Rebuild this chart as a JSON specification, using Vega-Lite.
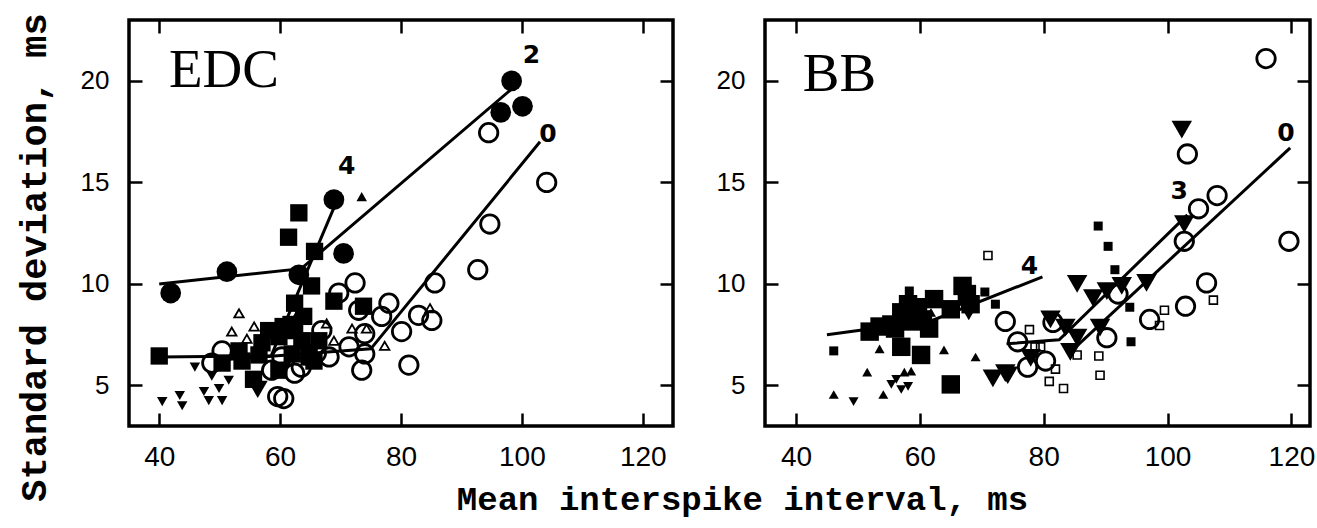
{
  "$schema": "https://vega.github.io/schema/vega-lite/v6.json",
  "background": "white",
  "padding": {"left": 13, "top": 11, "right": 0, "bottom": 0},
  "config": {
    "view": {"stroke": "black", "strokeWidth": 3.5},
    "axis": {"grid": false, "domain": false, "ticks": true, "tickColor": "black", "tickWidth": 2.5, "tickSize": 13, "offset": -13, "labelColor": "black", "labelFont": "Liberation Sans", "labelOverlap": false, "titleColor": "black"}
  },
  "datasets": {
    "pts": [
      {"p":"EDC","k":"fc","x":41.9,"y":9.55},{"p":"EDC","k":"fc","x":51.2,"y":10.6},{"p":"EDC","k":"fc","x":63.1,"y":10.45},{"p":"EDC","k":"fc","x":70.5,"y":11.5},{"p":"EDC","k":"fc","x":68.9,"y":14.15},{"p":"EDC","k":"fc","x":98.3,"y":20.0},{"p":"EDC","k":"fc","x":96.5,"y":18.45},{"p":"EDC","k":"fc","x":100.1,"y":18.75},
      {"p":"EDC","k":"fs","x":40.0,"y":6.45},{"p":"EDC","k":"fs","x":63.1,"y":13.5},{"p":"EDC","k":"fs","x":61.4,"y":12.3},{"p":"EDC","k":"fs","x":65.7,"y":11.6},{"p":"EDC","k":"fs","x":65.2,"y":9.9},{"p":"EDC","k":"fs","x":68.9,"y":9.15},{"p":"EDC","k":"fs","x":73.8,"y":8.9},{"p":"EDC","k":"fs","x":62.4,"y":9.05},{"p":"EDC","k":"fs","x":63.9,"y":8.4},{"p":"EDC","k":"fs","x":58.1,"y":7.7},{"p":"EDC","k":"fs","x":59.8,"y":7.4},{"p":"EDC","k":"fs","x":57.0,"y":7.1},{"p":"EDC","k":"fs","x":53.7,"y":6.2},{"p":"EDC","k":"fs","x":62.4,"y":7.7},{"p":"EDC","k":"fs","x":66.4,"y":7.2},{"p":"EDC","k":"fs","x":64.8,"y":6.4},{"p":"EDC","k":"fs","x":59.8,"y":5.75},{"p":"EDC","k":"fs","x":55.6,"y":5.3},{"p":"EDC","k":"fs","x":50.4,"y":6.1},{"p":"EDC","k":"fs","x":53.2,"y":6.7},{"p":"EDC","k":"fs","x":62.0,"y":6.55},{"p":"EDC","k":"fs","x":63.6,"y":7.2},{"p":"EDC","k":"fs","x":60.5,"y":7.9},{"p":"EDC","k":"fs","x":61.8,"y":8.0},{"p":"EDC","k":"fs","x":56.5,"y":6.5},{"p":"EDC","k":"fs","x":65.6,"y":6.2},
      {"p":"EDC","k":"oc","x":94.5,"y":17.45},{"p":"EDC","k":"oc","x":104.1,"y":15.0},{"p":"EDC","k":"oc","x":94.7,"y":12.95},{"p":"EDC","k":"oc","x":92.7,"y":10.7},{"p":"EDC","k":"oc","x":85.6,"y":10.05},{"p":"EDC","k":"oc","x":82.9,"y":8.45},{"p":"EDC","k":"oc","x":85.1,"y":8.2},{"p":"EDC","k":"oc","x":80.1,"y":7.65},{"p":"EDC","k":"oc","x":81.3,"y":6.0},{"p":"EDC","k":"oc","x":72.4,"y":10.05},{"p":"EDC","k":"oc","x":69.7,"y":9.55},{"p":"EDC","k":"oc","x":73.0,"y":8.7},{"p":"EDC","k":"oc","x":78.0,"y":9.05},{"p":"EDC","k":"oc","x":76.8,"y":8.4},{"p":"EDC","k":"oc","x":73.5,"y":5.75},{"p":"EDC","k":"oc","x":74.0,"y":6.55},{"p":"EDC","k":"oc","x":71.4,"y":6.9},{"p":"EDC","k":"oc","x":74.0,"y":7.55},{"p":"EDC","k":"oc","x":68.1,"y":6.4},{"p":"EDC","k":"oc","x":66.9,"y":7.7},{"p":"EDC","k":"oc","x":50.4,"y":6.7},{"p":"EDC","k":"oc","x":48.7,"y":6.1},{"p":"EDC","k":"oc","x":58.6,"y":5.75},{"p":"EDC","k":"oc","x":62.4,"y":5.6},{"p":"EDC","k":"oc","x":60.3,"y":6.4},{"p":"EDC","k":"oc","x":59.6,"y":4.45},{"p":"EDC","k":"oc","x":60.6,"y":4.35},{"p":"EDC","k":"oc","x":63.5,"y":5.9},{"p":"EDC","k":"oc","x":66.0,"y":6.6},
      {"p":"EDC","k":"ot","x":53.2,"y":8.55},{"p":"EDC","k":"ot","x":52.0,"y":7.65},{"p":"EDC","k":"ot","x":55.7,"y":7.9},{"p":"EDC","k":"ot","x":54.5,"y":7.3},{"p":"EDC","k":"ot","x":67.7,"y":8.05},{"p":"EDC","k":"ot","x":71.9,"y":7.8},{"p":"EDC","k":"ot","x":74.3,"y":7.8},{"p":"EDC","k":"ot","x":77.3,"y":6.95},{"p":"EDC","k":"ot","x":68.9,"y":7.2},{"p":"EDC","k":"ot","x":84.8,"y":8.8},{"p":"EDC","k":"ot","x":62.5,"y":8.3},
      {"p":"EDC","k":"ft","x":73.5,"y":14.3},
      {"p":"EDC","k":"fd","x":40.5,"y":4.2},{"p":"EDC","k":"fd","x":43.4,"y":4.5},{"p":"EDC","k":"fd","x":43.8,"y":4.0},{"p":"EDC","k":"fd","x":45.9,"y":5.9},{"p":"EDC","k":"fd","x":47.4,"y":4.7},{"p":"EDC","k":"fd","x":48.2,"y":4.25},{"p":"EDC","k":"fd","x":49.9,"y":4.85},{"p":"EDC","k":"fd","x":50.4,"y":4.25},{"p":"EDC","k":"fd","x":48.7,"y":5.45},{"p":"EDC","k":"fd","x":51.5,"y":5.25},
      {"p":"EDC","k":"FD","x":56.3,"y":4.8},
      {"p":"BB","k":"fs","x":51.9,"y":7.65},{"p":"BB","k":"fs","x":55.4,"y":8.0},{"p":"BB","k":"fs","x":57.0,"y":8.6},{"p":"BB","k":"fs","x":59.7,"y":8.85},{"p":"BB","k":"fs","x":62.3,"y":9.25},{"p":"BB","k":"fs","x":65.0,"y":8.75},{"p":"BB","k":"fs","x":66.9,"y":9.9},{"p":"BB","k":"fs","x":58.6,"y":8.15},{"p":"BB","k":"fs","x":60.5,"y":8.25},{"p":"BB","k":"fs","x":57.0,"y":6.9},{"p":"BB","k":"fs","x":60.2,"y":6.5},{"p":"BB","k":"fs","x":65.0,"y":5.05},{"p":"BB","k":"fs","x":58.1,"y":9.0},{"p":"BB","k":"fs","x":68.2,"y":9.0},{"p":"BB","k":"fs","x":53.5,"y":7.9},{"p":"BB","k":"fs","x":56.0,"y":7.8},{"p":"BB","k":"fs","x":61.5,"y":7.8},{"p":"BB","k":"fs","x":67.6,"y":9.5},
      {"p":"BB","k":"ss","x":46.1,"y":6.7},{"p":"BB","k":"ss","x":58.3,"y":9.65},{"p":"BB","k":"ss","x":70.5,"y":9.6},{"p":"BB","k":"ss","x":72.2,"y":9.0},{"p":"BB","k":"ss","x":88.8,"y":12.85},{"p":"BB","k":"ss","x":90.4,"y":11.85},{"p":"BB","k":"ss","x":91.5,"y":10.7},{"p":"BB","k":"ss","x":93.9,"y":8.85},{"p":"BB","k":"ss","x":94.1,"y":7.15},
      {"p":"BB","k":"os","x":71.0,"y":11.4},{"p":"BB","k":"os","x":77.7,"y":7.75},{"p":"BB","k":"os","x":79.5,"y":6.9},{"p":"BB","k":"os","x":81.9,"y":5.8},{"p":"BB","k":"os","x":80.9,"y":5.2},{"p":"BB","k":"os","x":83.2,"y":4.85},{"p":"BB","k":"os","x":85.4,"y":6.5},{"p":"BB","k":"os","x":88.9,"y":6.45},{"p":"BB","k":"os","x":89.1,"y":5.5},{"p":"BB","k":"os","x":99.5,"y":8.7},{"p":"BB","k":"os","x":98.7,"y":7.95},{"p":"BB","k":"os","x":107.4,"y":9.2},{"p":"BB","k":"os","x":78.6,"y":6.9},
      {"p":"BB","k":"oc","x":115.9,"y":21.1},{"p":"BB","k":"oc","x":103.2,"y":16.4},{"p":"BB","k":"oc","x":108.0,"y":14.35},{"p":"BB","k":"oc","x":105.0,"y":13.7},{"p":"BB","k":"oc","x":102.7,"y":12.1},{"p":"BB","k":"oc","x":119.6,"y":12.1},{"p":"BB","k":"oc","x":106.3,"y":10.05},{"p":"BB","k":"oc","x":102.9,"y":8.9},{"p":"BB","k":"oc","x":97.1,"y":8.25},{"p":"BB","k":"oc","x":92.0,"y":9.5},{"p":"BB","k":"oc","x":90.2,"y":7.35},{"p":"BB","k":"oc","x":81.5,"y":8.1},{"p":"BB","k":"oc","x":75.8,"y":7.15},{"p":"BB","k":"oc","x":80.3,"y":6.2},{"p":"BB","k":"oc","x":77.4,"y":5.9},{"p":"BB","k":"oc","x":73.8,"y":8.15},
      {"p":"BB","k":"FD","x":102.3,"y":17.6},{"p":"BB","k":"FD","x":102.7,"y":12.95},{"p":"BB","k":"FD","x":85.4,"y":10.0},{"p":"BB","k":"FD","x":88.0,"y":9.3},{"p":"BB","k":"FD","x":90.2,"y":9.65},{"p":"BB","k":"FD","x":92.6,"y":9.9},{"p":"BB","k":"FD","x":96.6,"y":10.05},{"p":"BB","k":"FD","x":89.1,"y":7.85},{"p":"BB","k":"FD","x":81.1,"y":8.25},{"p":"BB","k":"FD","x":83.5,"y":7.85},{"p":"BB","k":"FD","x":85.4,"y":7.35},{"p":"BB","k":"FD","x":84.3,"y":6.65},{"p":"BB","k":"FD","x":77.9,"y":6.35},{"p":"BB","k":"FD","x":73.8,"y":5.6},{"p":"BB","k":"FD","x":71.8,"y":5.35},{"p":"BB","k":"FD","x":74.2,"y":5.5},{"p":"BB","k":"FD","x":67.9,"y":8.65},
      {"p":"BB","k":"fd","x":49.3,"y":4.2},{"p":"BB","k":"fd","x":55.4,"y":5.05},{"p":"BB","k":"fd","x":57.0,"y":4.8},{"p":"BB","k":"fd","x":58.1,"y":4.95},{"p":"BB","k":"fd","x":56.2,"y":5.3},
      {"p":"BB","k":"ft","x":46.1,"y":4.55},{"p":"BB","k":"ft","x":51.5,"y":5.65},{"p":"BB","k":"ft","x":53.5,"y":6.8},{"p":"BB","k":"ft","x":54.1,"y":4.55},{"p":"BB","k":"ft","x":63.9,"y":6.75},{"p":"BB","k":"ft","x":69.0,"y":6.4},{"p":"BB","k":"ft","x":61.8,"y":8.6},{"p":"BB","k":"ft","x":57.5,"y":5.65},{"p":"BB","k":"ft","x":58.6,"y":5.7}
    ],
    "lines": [
      {"p":"EDC","id":"2","x":40,"y":10.0},{"p":"EDC","id":"2","x":63.5,"y":10.75},{"p":"EDC","id":"2","x":98.3,"y":19.6},
      {"p":"EDC","id":"4","x":40,"y":6.4},{"p":"EDC","id":"4","x":58.5,"y":6.45},{"p":"EDC","id":"4","x":69.4,"y":14.1},
      {"p":"EDC","id":"0","x":50,"y":6.25},{"p":"EDC","id":"0","x":75,"y":6.8},{"p":"EDC","id":"0","x":103,"y":17.0},
      {"p":"BB","id":"4","x":45,"y":7.5},{"p":"BB","id":"4","x":62,"y":8.2},{"p":"BB","id":"4","x":79.8,"y":10.35},
      {"p":"BB","id":"3","x":74,"y":7.05},{"p":"BB","id":"3","x":82.5,"y":7.25},{"p":"BB","id":"3","x":103.2,"y":13.4},
      {"p":"BB","id":"0","x":84.5,"y":6.7},{"p":"BB","id":"0","x":119.8,"y":16.7}
    ],
    "nums": [
      {"p":"EDC","t":"2","x":101.6,"y":21.3},{"p":"EDC","t":"4","x":71.0,"y":15.8},{"p":"EDC","t":"0","x":104.3,"y":17.4},
      {"p":"BB","t":"0","x":119.1,"y":17.45},{"p":"BB","t":"3","x":101.9,"y":14.6},{"p":"BB","t":"4","x":77.7,"y":10.9}
    ],
    "names": [
      {"p":"EDC","t":"EDC","x":41.6,"y":19.7},{"p":"BB","t":"BB","x":41.1,"y":19.5}
    ]
  },
  "hconcat": [
    {
      "width": 544, "height": 406,
      "data": {"name": "pts"},
      "encoding": {
        "x": {"field":"x","type":"quantitative","scale":{"domain":[35,125],"nice":false,"zero":false},"axis":null},
        "y": {"field":"y","type":"quantitative","scale":{"domain":[3,23],"nice":false,"zero":false},"axis":null}
      },
      "layer": [
        {
          "data": {"name": "lines"},
          "transform": [{"filter": "datum.p === 'EDC'"}],
          "mark": {"type": "line", "color": "black", "strokeWidth": 3},
          "encoding": {
            "x": {"field":"x","type":"quantitative","scale":{"domain":[35,125],"nice":false,"zero":false},
              "axis":{"orient":"bottom","values":[40,60,80,100,120],"labelFontSize":28,"labelPadding":17,
                "title":"Mean interspike interval, ms","titleFont":"Liberation Mono","titleFontSize":34,"titleFontWeight":"bold",
                "titleX":613,"titleY":96,"titleBaseline":"alphabetic","titleAlign":"center"}},
            "y": {"field":"y","type":"quantitative","scale":{"domain":[3,23],"nice":false,"zero":false},
              "axis":{"orient":"left","values":[5,10,15,20],"labelFontSize":26,"labelPadding":20,
                "title":"Standard deviation, ms","titleFont":"Liberation Mono","titleFontSize":37,"titleFontWeight":"bold",
                "titleX":-97,"titleY":237,"titleBaseline":"alphabetic","titleAlign":"center","titleAngle":-90}},
            "detail": {"field":"id"}
          }
        },
        {
          "data": {"name": "nums"},
          "transform": [{"filter": "datum.p === 'EDC'"}],
          "mark": {"type": "text", "font": "DejaVu Sans", "fontWeight": "bold", "fontSize": 25, "color": "black", "align": "center", "baseline": "middle"},
          "encoding": {
            "x": {"field":"x","type":"quantitative","scale":{"domain":[35,125],"nice":false,"zero":false},
              "axis":{"orient":"top","values":[40,60,80,100,120],"labels":false,"title":null}},
            "y": {"field":"y","type":"quantitative","scale":{"domain":[3,23],"nice":false,"zero":false},
              "axis":{"orient":"right","values":[5,10,15,20],"labels":false,"title":null}},
            "text": {"field":"t"}
          }
        },
        {
          "data": {"name": "names"},
          "transform": [{"filter": "datum.p === 'EDC'"}],
          "mark": {"type": "text", "font": "Liberation Serif", "fontSize": 55, "color": "black", "align": "left", "baseline": "alphabetic"},
          "encoding": {"text": {"field":"t"}}
        },
        {"transform":[{"filter":"datum.p==='EDC'&&datum.k==='fd'"}],"mark":{"type":"point","shape":"triangle-down","filled":true,"color":"black","size":110,"opacity":1,"strokeWidth":0}},
        {"transform":[{"filter":"datum.p==='EDC'&&datum.k==='FD'"}],"mark":{"type":"point","shape":"triangle-down","filled":true,"color":"black","size":400,"opacity":1,"strokeWidth":0}},
        {"transform":[{"filter":"datum.p==='EDC'&&datum.k==='ot'"}],"mark":{"type":"point","shape":"triangle-up","filled":false,"color":"black","size":90,"opacity":1,"strokeWidth":1.8}},
        {"transform":[{"filter":"datum.p==='EDC'&&datum.k==='ft'"}],"mark":{"type":"point","shape":"triangle-up","filled":true,"color":"black","size":110,"opacity":1,"strokeWidth":0}},
        {"transform":[{"filter":"datum.p==='EDC'&&datum.k==='oc'"}],"mark":{"type":"point","shape":"circle","filled":false,"color":"black","size":340,"opacity":1,"strokeWidth":2.8}},
        {"transform":[{"filter":"datum.p==='EDC'&&datum.k==='fs'"}],"mark":{"type":"point","shape":"square","filled":true,"color":"black","size":300,"opacity":1,"strokeWidth":0}},
        {"transform":[{"filter":"datum.p==='EDC'&&datum.k==='fc'"}],"mark":{"type":"point","shape":"circle","filled":true,"color":"black","size":430,"opacity":1,"strokeWidth":0}}
      ],
      "resolve": {"axis": {"x": "independent", "y": "independent"}}
    },
    {
      "width": 545, "height": 406,
      "data": {"name": "pts"},
      "encoding": {
        "x": {"field":"x","type":"quantitative","scale":{"domain":[35,123],"nice":false,"zero":false},"axis":null},
        "y": {"field":"y","type":"quantitative","scale":{"domain":[3,23],"nice":false,"zero":false},"axis":null}
      },
      "layer": [
        {
          "data": {"name": "lines"},
          "transform": [{"filter": "datum.p === 'BB'"}],
          "mark": {"type": "line", "color": "black", "strokeWidth": 3},
          "encoding": {
            "x": {"field":"x","type":"quantitative","scale":{"domain":[35,123],"nice":false,"zero":false},
              "axis":{"orient":"bottom","values":[40,60,80,100,120],"labelFontSize":28,"labelPadding":17,"title":null}},
            "y": {"field":"y","type":"quantitative","scale":{"domain":[3,23],"nice":false,"zero":false},
              "axis":{"orient":"left","values":[5,10,15,20],"labelFontSize":26,"labelPadding":20,"title":null}},
            "detail": {"field":"id"}
          }
        },
        {
          "data": {"name": "nums"},
          "transform": [{"filter": "datum.p === 'BB'"}],
          "mark": {"type": "text", "font": "DejaVu Sans", "fontWeight": "bold", "fontSize": 25, "color": "black", "align": "center", "baseline": "middle"},
          "encoding": {
            "x": {"field":"x","type":"quantitative","scale":{"domain":[35,123],"nice":false,"zero":false},
              "axis":{"orient":"top","values":[40,60,80,100,120],"labels":false,"title":null}},
            "y": {"field":"y","type":"quantitative","scale":{"domain":[3,23],"nice":false,"zero":false},
              "axis":{"orient":"right","values":[5,10,15,20],"labels":false,"title":null}},
            "text": {"field":"t"}
          }
        },
        {
          "data": {"name": "names"},
          "transform": [{"filter": "datum.p === 'BB'"}],
          "mark": {"type": "text", "font": "Liberation Serif", "fontSize": 55, "color": "black", "align": "left", "baseline": "alphabetic"},
          "encoding": {"text": {"field":"t"}}
        },
        {"transform":[{"filter":"datum.p==='BB'&&datum.k==='fd'"}],"mark":{"type":"point","shape":"triangle-down","filled":true,"color":"black","size":100,"opacity":1,"strokeWidth":0}},
        {"transform":[{"filter":"datum.p==='BB'&&datum.k==='ft'"}],"mark":{"type":"point","shape":"triangle-up","filled":true,"color":"black","size":100,"opacity":1,"strokeWidth":0}},
        {"transform":[{"filter":"datum.p==='BB'&&datum.k==='os'"}],"mark":{"type":"point","shape":"square","filled":false,"color":"black","size":64,"opacity":1,"strokeWidth":1.6}},
        {"transform":[{"filter":"datum.p==='BB'&&datum.k==='ss'"}],"mark":{"type":"point","shape":"square","filled":true,"color":"black","size":81,"opacity":1,"strokeWidth":0}},
        {"transform":[{"filter":"datum.p==='BB'&&datum.k==='fs'"}],"mark":{"type":"point","shape":"square","filled":true,"color":"black","size":340,"opacity":1,"strokeWidth":0}},
        {"transform":[{"filter":"datum.p==='BB'&&datum.k==='oc'"}],"mark":{"type":"point","shape":"circle","filled":false,"color":"black","size":340,"opacity":1,"strokeWidth":2.8}},
        {"transform":[{"filter":"datum.p==='BB'&&datum.k==='FD'"}],"mark":{"type":"point","shape":"triangle-down","filled":true,"color":"black","size":420,"opacity":1,"strokeWidth":0}}
      ],
      "resolve": {"axis": {"x": "independent", "y": "independent"}}
    }
  ],
  "spacing": 92,
  "bounds": "flush"
}
